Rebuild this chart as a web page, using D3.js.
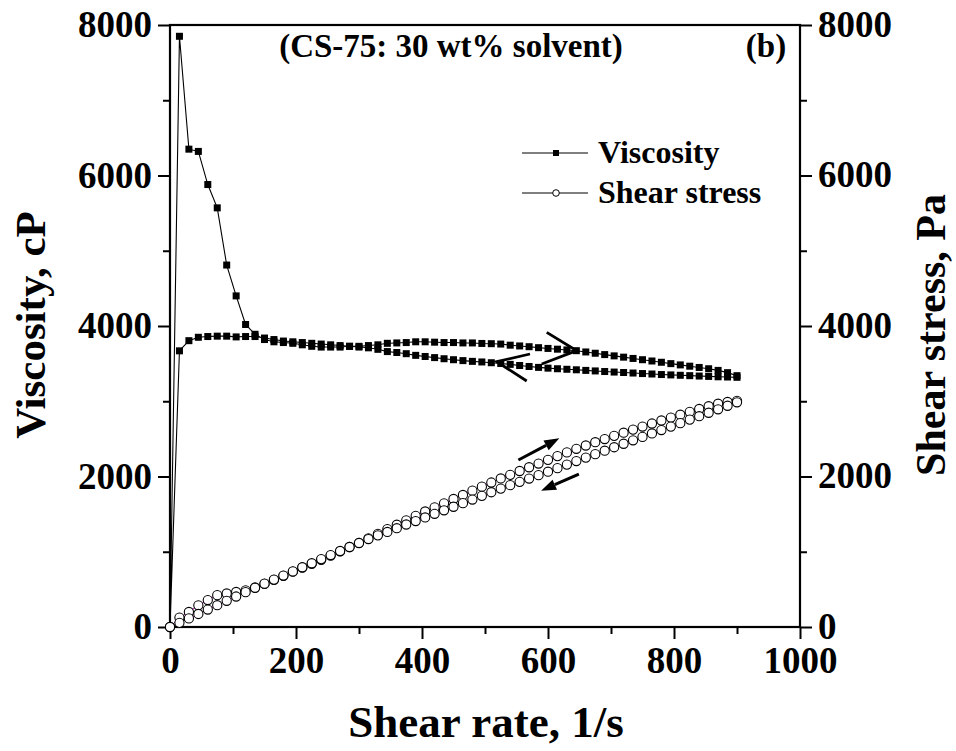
<!DOCTYPE html>
<html><head><meta charset="utf-8">
<script src="https://cdn.jsdelivr.net/npm/d3@7/dist/d3.min.js"></script>
<style>
body{margin:0;background:#fff;}
text{font-family:"Liberation Serif","Times New Roman",serif;font-weight:bold;fill:#000;}
</style></head><body>
<svg id="chart" width="956" height="751"></svg>
<script>
const shearRate = [0,15,30,45,60,75,90,105,120,135,150,165,180,195,210,225,240,255,270,285,300,315,330,345,360,375,390,405,420,435,450,465,480,495,510,525,540,555,570,585,600,615,630,645,660,675,690,705,720,735,750,765,780,795,810,825,840,855,870,885,900];
const viscUp = [0,7850,6350,6320,5880,5570,4810,4400,4020,3890,3820,3790,3780,3770,3750,3730,3720,3720,3720,3730,3730,3740,3750,3770,3775,3780,3790,3790,3785,3780,3780,3775,3775,3768,3765,3760,3745,3735,3725,3712,3702,3692,3682,3672,3655,3638,3620,3603,3586,3569,3552,3535,3518,3500,3483,3466,3449,3432,3410,3380,3340];
const viscDown = [0,3670,3805,3850,3860,3865,3865,3855,3860,3860,3840,3820,3800,3790,3780,3770,3760,3750,3740,3730,3720,3710,3690,3660,3648,3632,3610,3595,3580,3565,3552,3540,3530,3522,3512,3502,3490,3475,3462,3450,3440,3432,3425,3418,3410,3403,3395,3388,3382,3375,3368,3362,3355,3350,3345,3340,3335,3330,3325,3322,3318];
const stressUp = [0,125,200,288,358,423,445,466,488,525,573,625,680,735,788,839,893,949,1004,1063,1119,1178,1238,1301,1359,1418,1478,1535,1590,1644,1701,1755,1812,1865,1920,1974,2022,2073,2123,2172,2221,2271,2320,2368,2412,2456,2498,2540,2582,2623,2664,2704,2744,2783,2821,2859,2897,2934,2967,2991,3006];
const stressDown = [0,55,114,173,232,290,348,405,463,521,576,630,684,739,794,848,902,956,1010,1063,1116,1169,1218,1263,1313,1362,1408,1456,1504,1551,1598,1646,1694,1743,1791,1839,1885,1929,1973,2018,2064,2111,2158,2205,2251,2297,2343,2389,2435,2481,2526,2572,2617,2663,2709,2756,2801,2847,2893,2940,2986];

const xTicksMajor = [0,200,400,600,800,1000];
const xTicksMinor = [100,300,500,700,900];
const yTicksMajor = [0,2000,4000,6000,8000];
const yTicksMinor = [1000,3000,5000,7000];

// annotation chevrons / arrows (data units)
const chevronUp = [[598,3916],[645.6,3672],[590,3495]];
const chevronDown = [[571.4,3628],[518.6,3526],[566.2,3269]];
const arrowUp = [[553,2219],[618,2508]];
const arrowDown = [[649,2033],[589,1811]];

const titleText = "(CS-75: 30 wt% solvent)";
const panelLabel = "(b)";
const legendLabels = ["Viscosity","Shear stress"];
const xTitle = "Shear rate, 1/s";
const yTitleLeft = "Viscosity, cP";
const yTitleRight = "Shear stress, Pa";

const L=170, R=800, T=25, B=627;
const svg = d3.select("#chart");
const x = d3.scaleLinear().domain([0,1000]).range([L,R]);
const yV = d3.scaleLinear().domain([0,8000]).range([B,T]);
const yS = d3.scaleLinear().domain([0,8000]).range([B,T]);

function styleAxis(g, fs){
  g.select(".domain").remove();
  g.selectAll(".tick line").attr("stroke","#000").attr("stroke-width",2);
  g.selectAll(".tick text").style("font-size",fs+"px").style("font-family",'"Liberation Serif","Times New Roman",serif').style("font-weight","bold").attr("fill","#000");
}
const FS = 37;
// bottom
const gx = svg.append("g").attr("transform",`translate(0,${B})`)
  .call(d3.axisBottom(x).tickValues(xTicksMajor).tickSize(12).tickPadding(6).tickFormat(d3.format("d")));
styleAxis(gx,FS);
gx.selectAll(".tick text").attr("dy","0.76em");
const gxm = svg.append("g").attr("transform",`translate(0,${B})`)
  .call(d3.axisBottom(x).tickValues(xTicksMinor).tickSize(7).tickFormat(""));
styleAxis(gxm,FS);
// left
const gl = svg.append("g").attr("transform",`translate(${L},0)`)
  .call(d3.axisLeft(yV).tickValues(yTicksMajor).tickSize(12).tickPadding(6).tickFormat(d3.format("d")));
styleAxis(gl,FS);
const glm = svg.append("g").attr("transform",`translate(${L},0)`)
  .call(d3.axisLeft(yV).tickValues(yTicksMinor).tickSize(7).tickFormat(""));
styleAxis(glm,FS);
// right
const gr = svg.append("g").attr("transform",`translate(${R},0)`)
  .call(d3.axisRight(yS).tickValues(yTicksMajor).tickSize(12).tickPadding(6).tickFormat(d3.format("d")));
styleAxis(gr,FS);
gr.selectAll(".tick text").attr("dy","0.3em");
const grm = svg.append("g").attr("transform",`translate(${R},0)`)
  .call(d3.axisRight(yS).tickValues(yTicksMinor).tickSize(7).tickFormat(""));
styleAxis(grm,FS);

// frame
svg.append("rect").attr("x",L).attr("y",T).attr("width",R-L).attr("height",B-T)
  .attr("fill","none").attr("stroke","#000").attr("stroke-width",2.2);

// viscosity data
const upPts = shearRate.map((s,i)=>[s,viscUp[i]]);
const downPts = shearRate.map((s,i)=>[s,viscDown[i]]).reverse();
const lineV = d3.line().x(d=>x(d[0])).y(d=>yV(d[1]));
svg.append("path").attr("d",lineV(upPts.concat(downPts))).attr("fill","none").attr("stroke","#000").attr("stroke-width",1.1);
const sq = 7;
svg.append("g").selectAll("rect").data(upPts.concat(downPts).filter(d=>d[0]>0)).join("rect")
  .attr("x",d=>x(d[0])-sq/2).attr("y",d=>yV(d[1])-sq/2).attr("width",sq).attr("height",sq).attr("fill","#000");

// stress data
const sUp = shearRate.map((s,i)=>[s,stressUp[i]]);
const sDown = shearRate.map((s,i)=>[s,stressDown[i]]).reverse();
const lineS = d3.line().x(d=>x(d[0])).y(d=>yS(d[1]));
svg.append("path").attr("d",lineS(sUp.concat(sDown))).attr("fill","none").attr("stroke","#c0c").attr("stroke-width",1);
svg.append("g").selectAll("circle").data(sUp.concat(sDown)).join("circle")
  .attr("cx",d=>x(d[0])).attr("cy",d=>yS(d[1])).attr("r",4.6)
  .attr("fill","#fff").attr("stroke","#000").attr("stroke-width",1.1);

// chevrons
const lineA = d3.line().x(d=>x(d[0])).y(d=>yV(d[1]));
[chevronUp,chevronDown].forEach(c=>{
  svg.append("path").attr("d",lineA(c)).attr("fill","none").attr("stroke","#000").attr("stroke-width",2.8);
});
// arrows with heads
function arrow(a){
  const x1=x(a[0][0]), y1=yS(a[0][1]), x2=x(a[1][0]), y2=yS(a[1][1]);
  const ang=Math.atan2(y2-y1,x2-x1), hl=15, hw=5.5;
  const bx=x2-hl*Math.cos(ang), by=y2-hl*Math.sin(ang);
  svg.append("line").attr("x1",x1).attr("y1",y1).attr("x2",bx).attr("y2",by).attr("stroke","#000").attr("stroke-width",3);
  svg.append("path").attr("d",`M${x2},${y2}L${bx+hw*Math.sin(ang)},${by-hw*Math.cos(ang)}L${bx-hw*Math.sin(ang)},${by+hw*Math.cos(ang)}Z`).attr("fill","#000");
}
arrow(arrowUp); arrow(arrowDown);

// texts
svg.append("text").attr("x",451).attr("y",57).attr("text-anchor","middle").style("font-size","33px").text(titleText);
svg.append("text").attr("x",766).attr("y",57).attr("text-anchor","middle").style("font-size","33px").text(panelLabel);

// legend
const legY=[153,193];
legY.forEach((ly,i)=>{
  svg.append("line").attr("x1",522).attr("x2",588).attr("y1",ly).attr("y2",ly).attr("stroke","#000").attr("stroke-width",1.1);
  if(i===0) svg.append("rect").attr("x",556-3).attr("y",ly-3).attr("width",6).attr("height",6).attr("fill","#000");
  else svg.append("circle").attr("cx",556).attr("cy",ly).attr("r",3.3).attr("fill","#fff").attr("stroke","#000").attr("stroke-width",1);
  svg.append("text").attr("x",598).attr("y",ly+10).style("font-size","32px").text(legendLabels[i]);
});

svg.append("text").attr("x",486).attr("y",737).attr("text-anchor","middle").style("font-size","45px").text(xTitle);
svg.append("text").attr("transform","translate(45,325) rotate(-90)").attr("text-anchor","middle").style("font-size","43px").text(yTitleLeft);
svg.append("text").attr("transform","translate(945,335) rotate(-90)").attr("text-anchor","middle").style("font-size","42px").text(yTitleRight);
</script>
</body></html>
